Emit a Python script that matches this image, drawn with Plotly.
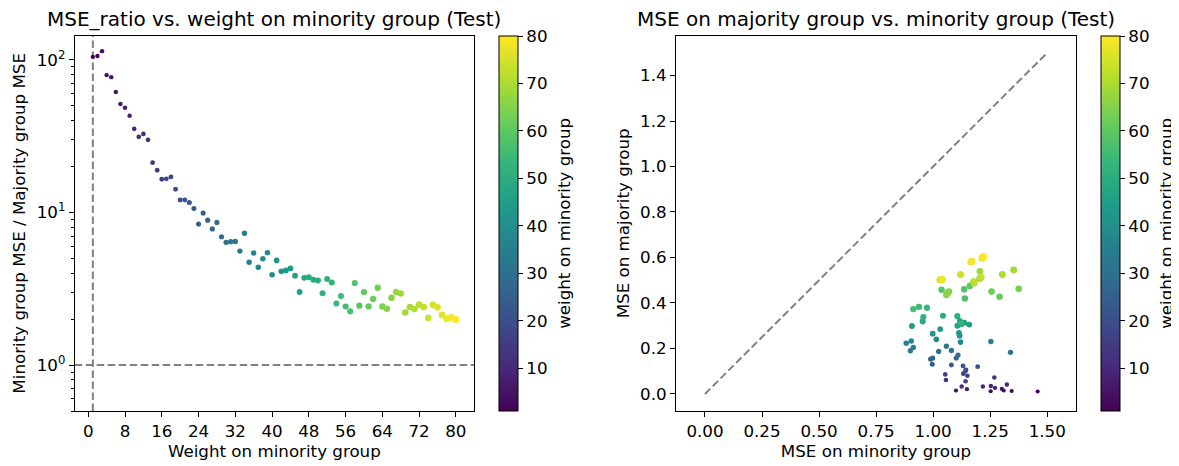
import plotly.graph_objects as go

# ---------------- data ----------------
weights = list(range(1, 81))
mse_ratio = [104.6, 106.0, 114.0, 79.4, 77.0, 61.6, 51.3, 48.5, 43.0, 35.3,
             31.3, 32.7, 29.9, 21.2, 18.9, 16.5, 16.6, 17.1, 14.2, 12.05,
             12.05, 11.6, 10.6, 8.4, 9.9, 8.9, 7.8, 8.6, 6.93, 6.37,
             6.43, 6.45, 5.58, 7.3, 4.71, 5.42, 4.38, 4.98, 5.45, 3.91,
             4.85, 4.11, 4.17, 4.30, 3.85, 3.01, 3.73, 3.76, 3.62, 3.58,
             2.95, 3.66, 3.47, 2.53, 2.83, 2.42, 2.25, 3.45, 2.45, 3.01,
             2.42, 2.71, 3.21, 2.42, 2.34, 2.76, 3.01, 2.94, 2.21, 2.40,
             2.33, 2.49, 2.40, 2.04, 2.48, 2.39, 2.13, 2.01, 2.05, 1.99]

mse_minority = [1.458, 1.344, 1.252, 1.309, 1.301, 1.100, 1.148, 1.271, 1.253, 1.218,
                1.125, 1.323, 1.268, 1.056, 1.142, 1.053, 1.150, 1.132, 1.141, 1.144,
                1.195, 1.131, 1.080, 0.996, 0.989, 0.998, 1.101, 1.109, 1.024, 1.080,
                1.058, 1.339, 0.900, 0.913, 1.253, 0.882, 0.904, 1.120, 1.014, 1.116,
                1.113, 0.998, 1.031, 1.158, 0.907, 1.136, 1.106, 0.954, 1.117, 1.043,
                1.106, 0.957, 1.125, 0.973, 0.938, 0.913, 1.139, 1.136, 1.037, 1.161,
                1.291, 1.256, 1.375, 1.058, 1.069, 1.062, 1.204, 1.205, 1.353, 1.303,
                1.177, 1.180, 1.210, 1.120, 1.166, 1.030, 1.215, 1.040, 1.170, 1.220]
mse_majority = [0.011, 0.013, 0.012, 0.015, 0.022, 0.015, 0.021, 0.027, 0.035, 0.033,
                0.033, 0.041, 0.072, 0.061, 0.056, 0.086, 0.080, 0.089, 0.100, 0.106,
                0.120, 0.123, 0.127, 0.131, 0.153, 0.158, 0.158, 0.171, 0.187, 0.191,
                0.210, 0.183, 0.190, 0.204, 0.231, 0.223, 0.233, 0.228, 0.240, 0.256,
                0.268, 0.265, 0.285, 0.305, 0.299, 0.313, 0.300, 0.319, 0.321, 0.344,
                0.342, 0.338, 0.308, 0.379, 0.383, 0.373, 0.420, 0.460, 0.458, 0.475,
                0.427, 0.450, 0.462, 0.436, 0.450, 0.443, 0.508, 0.539, 0.545, 0.525,
                0.493, 0.488, 0.513, 0.525, 0.580, 0.501, 0.598, 0.503, 0.583, 0.603]

diag_line = [0.0, 1.5]
left_xticks = [0, 8, 16, 24, 32, 40, 48, 56, 64, 72, 80]
left_yticks = [1, 10, 100]
left_yticklabels = ["10<sup>0</sup>", "10<sup>1</sup>", "10<sup>2</sup>"]
left_yminor = [0.5, 0.6, 0.7, 0.8, 0.9, 2, 3, 4, 5, 6, 7, 8, 9,
               20, 30, 40, 50, 60, 70, 80, 90]
right_xticks = [0.0, 0.25, 0.5, 0.75, 1.0, 1.25, 1.5]
right_yticks = [0.0, 0.2, 0.4, 0.6, 0.8, 1.0, 1.2, 1.4]
cbar_ticks = [10, 20, 30, 40, 50, 60, 70, 80]

# ---------------- layout helpers ----------------
OFF = 8  # page body margin
W, H = 1179 - OFF, 466 - OFF
FONT = "DejaVu Sans"
TICKF = 16.7
TITLEF = 20

def px_x(p):
    return (p - OFF) / W

def px_y(p):
    return 1 - (p - OFF) / H

ax_top, ax_bot = 35.7, 411.0
L_x0, L_x1 = 74.7, 474.0
R_x0, R_x1 = 676.0, 1076.0

sizes_l = [4.3 + 2.6 * w / 80 for w in weights]
sizes_r = [4.0 + 3.4 * w / 80 for w in weights]

def cbar(xpix):
    return dict(
        x=px_x(xpix), xanchor="left", xref="paper", xpad=0,
        y=px_y(ax_bot), yanchor="bottom", yref="paper", ypad=0,
        len=ax_bot - ax_top, lenmode="pixels",
        thickness=19, thicknessmode="pixels",
        outlinewidth=1, outlinecolor="black",
        ticks="outside", ticklen=5, tickwidth=1, tickcolor="black",
        tickvals=cbar_ticks, tickfont=dict(family=FONT, size=TICKF, color="black"),
    )

fig = go.Figure()

fig.add_trace(go.Scatter(
    x=weights, y=mse_ratio, mode="markers",
    marker=dict(color=weights, colorscale="Viridis", cmin=1, cmax=80, opacity=1,
                size=sizes_l, line=dict(width=0), colorbar=cbar(499.3)),
    xaxis="x", yaxis="y", showlegend=False, hoverinfo="x+y",
))

fig.add_trace(go.Scatter(
    x=diag_line, y=diag_line, mode="lines",
    line=dict(color="#808080", width=2, dash="7.5px,3.5px"),
    xaxis="x2", yaxis="y2", showlegend=False, hoverinfo="skip",
))

fig.add_trace(go.Scatter(
    x=mse_minority, y=mse_majority, mode="markers",
    marker=dict(color=weights, colorscale="Viridis", cmin=1, cmax=80, opacity=1,
                size=sizes_r, line=dict(width=0), colorbar=cbar(1101.0)),
    xaxis="x2", yaxis="y2", showlegend=False, hoverinfo="x+y",
))

common = dict(
    showline=True, linecolor="black", linewidth=1, mirror=True,
    ticks="outside", ticklen=5, tickwidth=1, tickcolor="black",
    showgrid=False, zeroline=False, automargin=False,
    tickfont=dict(family=FONT, size=TICKF, color="black"),
)
tfont = dict(family=FONT, size=TICKF, color="black")

def label_ann(text, xpix, ypix, size, angle=0):
    return dict(text=text, xref="paper", yref="paper",
                x=px_x(xpix), y=px_y(ypix), xanchor="center", yanchor="middle",
                textangle=angle, showarrow=False,
                font=dict(family=FONT, size=size, color="black"))

cb_mid = (ax_top + ax_bot) / 2

fig.update_layout(
    width=W, height=H,
    margin=dict(l=0, r=0, t=0, b=0, autoexpand=False),
    paper_bgcolor="white", plot_bgcolor="white",
    font=dict(family=FONT, size=TICKF, color="black"),
    xaxis=dict(domain=[px_x(L_x0), px_x(L_x1)], anchor="y",
               range=[-2.95, 83.95], tickvals=left_xticks,
               title=dict(text="Weight on minority group", font=tfont, standoff=4),
               **common),
    yaxis=dict(domain=[px_y(ax_bot), px_y(ax_top)], anchor="x", type="log",
               range=[-0.301, 2.158], tickvals=left_yticks, ticktext=left_yticklabels,
               minor=dict(tickmode="array", tickvals=left_yminor, ticks="outside",
                          ticklen=3, tickwidth=0.8, tickcolor="black", showgrid=False),
               title=dict(text="Minority group MSE / Majority group MSE", font=tfont, standoff=6),
               **common),
    xaxis2=dict(domain=[px_x(R_x0), px_x(R_x1)], anchor="y2",
                range=[-0.127, 1.626], tickvals=right_xticks, tickformat=".2f",
                title=dict(text="MSE on minority group", font=tfont, standoff=4),
                **common),
    yaxis2=dict(domain=[px_y(ax_bot), px_y(ax_top)], anchor="x2",
                range=[-0.075, 1.575], tickvals=right_yticks, tickformat=".1f",
                title=dict(text="MSE on majority group", font=tfont, standoff=6),
                **common),
    shapes=[
        dict(type="line", xref="x domain", yref="y", x0=0, x1=1, y0=1, y1=1,
             line=dict(color="#808080", width=2, dash="7.5px,3.5px"), layer="below"),
        dict(type="line", xref="x", yref="y domain", x0=1, x1=1, y0=0, y1=1,
             line=dict(color="#808080", width=2, dash="7.5px,3.5px"), layer="below"),
    ],
    annotations=[
        label_ann("MSE_ratio vs. weight on minority group (Test)", (L_x0 + L_x1) / 2, 19.5, TITLEF),
        label_ann("MSE on majority group vs. minority group (Test)", (R_x0 + R_x1) / 2, 19.5, TITLEF),
        label_ann("weight on minority group", 564.5, cb_mid, TICKF, -90),
        label_ann("weight on minority group", 1166.5, cb_mid, TICKF, -90),
    ],
)

fig.write_html("out.html")
